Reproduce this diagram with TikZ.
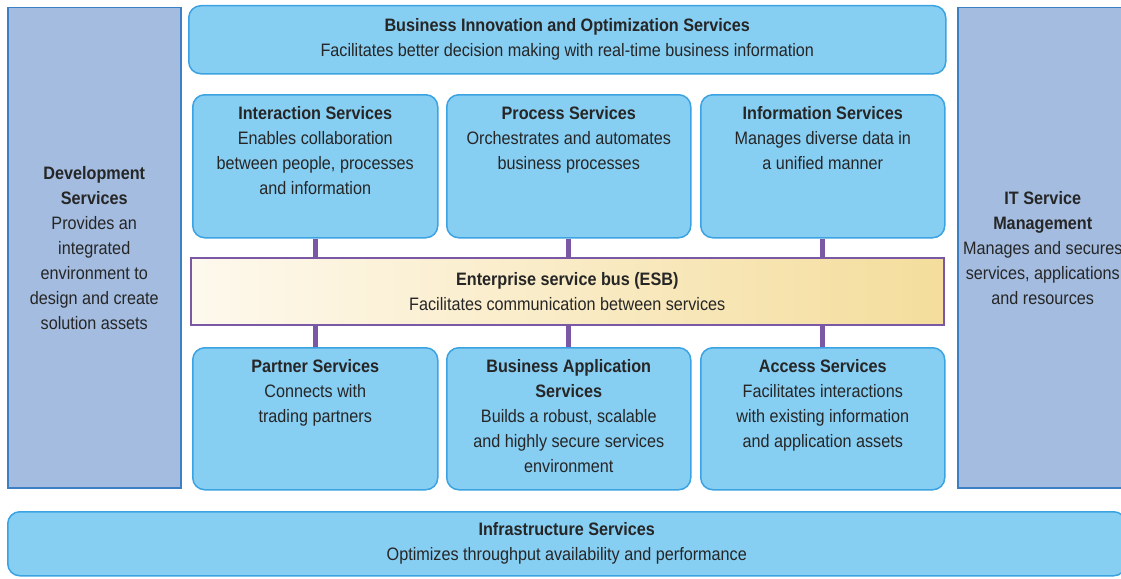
\documentclass[tikz,border=0pt]{standalone}
\usepackage{fontspec}
\setmainfont{Liberation Sans}[FakeStretch=0.9]
\usetikzlibrary{positioning}
\definecolor{devblue}{HTML}{A3BCE0}
\definecolor{devline}{HTML}{3C7FC2}
\definecolor{svcblue}{HTML}{87CEF3}
\definecolor{svcline}{HTML}{3BA3E2}
\definecolor{busline}{HTML}{7B58A6}
\definecolor{buslight}{HTML}{FEF9EE}
\definecolor{busdark}{HTML}{F4DD9C}

\begin{document}
\begin{tikzpicture}[x=1pt,y=-1pt,
    side/.style={draw=devline,fill=devblue,line width=1.5pt,anchor=north west,inner sep=0pt},
    svc/.style={draw=svcline,fill=svcblue,line width=1.5pt,rounded corners=12pt,anchor=north west,inner sep=0pt},
    txt/.style={align=center,font=\fontsize{18}{25}\selectfont,text=black!85},
    link/.style={draw=busline,line width=5pt}]
    \useasboundingbox (0,0) rectangle (1121,578);

    \node[side,minimum width=173pt,minimum height=480pt] (dev) at (7,7) {};
    \node[side,minimum width=170pt,minimum height=480pt] (itsm) at (957,7) {};
    \node[svc,minimum width=757pt,minimum height=68pt] (bios) at (188,5) {};
    \node[svc,minimum width=245pt,minimum height=143pt] (inter) at (192,94) {};
    \node[svc,minimum width=244pt,minimum height=143pt] (proc) at (446,94) {};
    \node[svc,minimum width=244pt,minimum height=143pt] (info) at (700,94) {};
    \node[draw=busline,line width=1.5pt,left color=buslight,right color=busdark,anchor=north west,
        inner sep=0pt,minimum width=753pt,minimum height=67pt] (esb) at (190,257) {};
    \node[svc,minimum width=245pt,minimum height=142pt] (partner) at (192,347) {};
    \node[svc,minimum width=244pt,minimum height=142pt] (bapp) at (446,347) {};
    \node[svc,minimum width=244pt,minimum height=142pt] (access) at (700,347) {};
    \node[svc,minimum width=1118pt,minimum height=64pt] (infra) at (7,511) {};

    \draw[link] (inter.south) -- (inter.south |- esb.north);
    \draw[link] (proc.south) -- (proc.south |- esb.north);
    \draw[link] (info.south) -- (info.south |- esb.north);
    \draw[link] (esb.south -| partner.north) -- (partner.north);
    \draw[link] (esb.south -| bapp.north) -- (bapp.north);
    \draw[link] (esb.south -| access.north) -- (access.north);

    \node[txt] (devtxt) at (dev) {\textbf{Development}\\\textbf{Services}\\Provides an\\integrated\\environment to\\design and create\\solution assets};
    \node[txt] (itsmtxt) at (itsm) {\textbf{IT Service}\\\textbf{Management}\\Manages and secures\\services, applications\\and resources};
    \node[txt] (biostxt) at (bios) {\textbf{Business Innovation and Optimization Services}\\Facilitates better decision making with real-time business information};
    \node[txt,below=9pt of inter.north] (intertxt) {\textbf{Interaction Services}\\Enables collaboration\\between people, processes\\and information};
    \node[txt,below=9pt of proc.north] (proctxt) {\textbf{Process Services}\\Orchestrates and automates\\business processes};
    \node[txt,below=9pt of info.north] (infotxt) {\textbf{Information Services}\\Manages diverse data in\\a unified manner};
    \node[txt] (esbtxt) at (esb) {\textbf{Enterprise service bus (ESB)}\\Facilitates communication between services};
    \node[txt,below=9pt of partner.north] (partnertxt) {\textbf{Partner Services}\\Connects with\\trading partners};
    \node[txt,below=9pt of bapp.north] (bapptxt) {\textbf{Business Application}\\\textbf{Services}\\Builds a robust, scalable\\and highly secure services\\environment};
    \node[txt,below=9pt of access.north] (accesstxt) {\textbf{Access Services}\\Facilitates interactions\\with existing information\\and application assets};
    \node[txt] (infratxt) at (infra) {\textbf{Infrastructure Services}\\Optimizes throughput availability and performance};
\end{tikzpicture}
\end{document}
